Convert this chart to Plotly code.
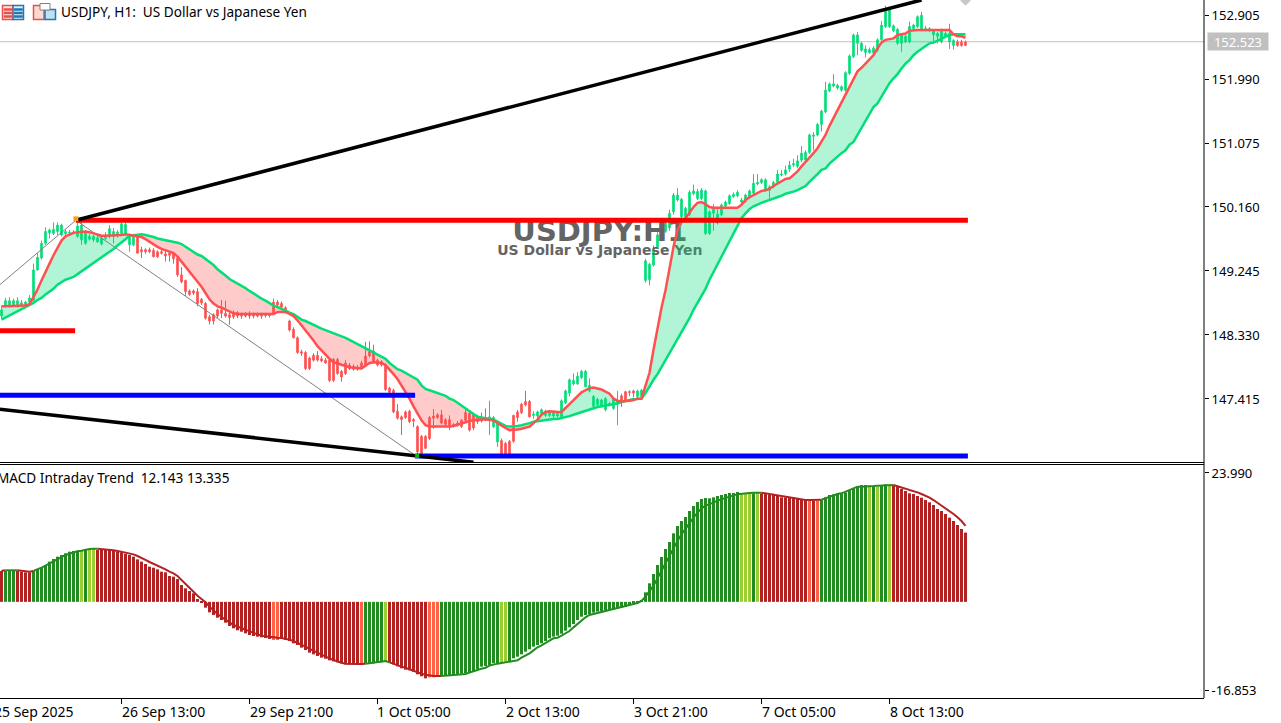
import plotly.graph_objects as go

# USDJPY H1 candles, one value per bar
opens = [148.60,148.74,148.76,148.76,148.76,148.76,148.77,148.80,148.83,149.26,
 149.43,149.64,149.79,149.78,149.81,149.76,149.78,149.79,149.79,149.74,
 149.69,149.64,149.70,149.69,149.66,149.63,149.71,149.74,149.74,149.76,
 149.78,149.78,149.62,149.62,149.74,149.55,149.55,149.55,149.54,149.52,
 149.52,149.49,149.50,149.49,149.43,149.19,149.11,148.96,148.96,148.95,
 148.84,148.78,148.59,148.62,148.69,148.69,148.64,148.62,148.65,148.65,
 148.62,148.63,148.64,148.63,148.62,148.62,148.62,148.62,148.80,148.80,
 148.78,148.72,148.53,148.41,148.29,148.09,148.08,148.00,148.04,148.04,
 147.99,147.97,147.97,147.98,147.98,147.81,147.93,147.90,147.88,147.87,
 147.93,148.03,148.09,148.10,147.97,147.95,147.90,147.57,147.54,147.24,
 147.16,147.23,147.24,147.12,147.02,146.88,146.88,147.15,147.17,147.19,
 147.19,147.12,147.12,147.05,147.07,147.11,147.22,147.21,147.19,147.16,
 147.14,147.15,147.12,147.02,146.80,146.82,146.78,146.81,147.18,147.23,
 147.34,147.38,147.38,147.18,147.17,147.21,147.18,147.18,147.17,147.17,
 147.16,147.36,147.50,147.63,147.63,147.72,147.59,147.53,147.31,147.33,
 147.31,147.26,147.33,147.28,147.35,147.46,147.52,147.52,147.53,147.45,
 147.45,149.11,149.12,149.33,149.59,149.69,149.81,149.86,150.09,150.26,
 150.02,150.02,150.05,150.35,150.28,150.28,149.78,149.78,150.07,149.93,
 150.05,150.17,150.21,150.31,150.32,150.23,150.24,150.30,150.36,150.49,
 150.51,150.40,150.40,150.45,150.51,150.62,150.63,150.70,150.76,150.74,
 150.83,150.83,150.94,151.17,151.19,151.34,151.52,151.82,151.89,151.86,
 151.83,151.83,152.07,152.31,152.50,152.40,152.37,152.37,152.36,152.40,
 152.55,152.74,152.74,152.68,152.50,152.50,152.52,152.52,152.71,152.74,
 152.69,152.69,152.68,152.62,152.60,152.52,152.60,152.52,152.47,152.52,
 152.52,152.52]
highs = [148.74,148.86,148.87,148.85,148.87,148.83,148.82,148.90,149.35,149.50,
 149.68,149.87,149.85,149.94,149.94,149.92,149.84,149.83,149.83,149.97,
 149.95,149.83,149.77,149.76,149.75,149.73,149.80,149.90,149.86,149.83,
 149.93,149.94,149.78,149.76,149.75,149.59,149.57,149.58,149.57,149.54,
 149.55,149.55,149.53,149.52,149.44,149.30,149.12,148.98,148.98,149.00,
 148.86,148.80,148.62,148.64,148.71,148.83,148.82,148.66,148.68,148.67,
 148.65,148.66,148.67,148.65,148.65,148.65,148.65,148.64,148.85,148.83,
 148.81,148.74,148.55,148.44,148.31,148.12,148.10,148.02,148.07,148.10,
 148.03,148.00,148.00,148.00,148.00,147.83,147.97,147.93,147.91,147.90,
 147.96,148.23,148.24,148.19,147.99,147.97,147.92,147.59,147.56,147.34,
 147.18,147.25,147.26,147.14,147.04,146.90,146.90,147.17,147.27,147.21,
 147.26,147.14,147.18,147.07,147.10,147.13,147.30,147.23,147.21,147.19,
 147.22,147.28,147.39,147.17,147.09,146.85,146.80,146.83,147.19,147.26,
 147.36,147.53,147.40,147.24,147.25,147.28,147.26,147.25,147.25,147.23,
 147.41,147.55,147.71,147.78,147.80,147.83,147.83,147.71,147.47,147.43,
 147.42,147.44,147.37,147.44,147.53,147.49,147.53,147.54,147.55,147.55,
 147.56,149.42,149.36,149.61,149.80,149.84,149.96,150.12,150.36,150.43,
 150.29,150.16,150.40,150.48,150.42,150.43,150.41,150.11,150.20,150.14,
 150.21,150.25,150.34,150.37,150.40,150.29,150.35,150.41,150.63,150.63,
 150.57,150.57,150.47,150.53,150.69,150.69,150.75,150.82,150.85,150.90,
 151.03,150.97,151.21,151.23,151.36,151.55,151.95,151.94,152.06,151.92,
 151.90,152.10,152.34,152.64,152.66,152.52,152.47,152.44,152.46,152.57,
 152.82,153.04,153.00,152.77,152.72,152.64,152.62,152.81,152.78,152.90,
 152.95,152.75,152.73,152.70,152.66,152.71,152.67,152.78,152.56,152.55,
 152.55,152.54]
lows = [148.56,148.72,148.72,148.73,148.72,148.74,148.74,148.76,148.81,149.25,
 149.41,149.62,149.71,149.76,149.76,149.74,149.76,149.76,149.77,149.72,
 149.62,149.62,149.68,149.66,149.65,149.61,149.69,149.71,149.64,149.72,
 149.75,149.76,149.52,149.60,149.50,149.43,149.49,149.50,149.44,149.43,
 149.48,149.38,149.38,149.35,149.16,149.07,148.89,148.89,148.90,148.74,
 148.76,148.55,148.48,148.48,148.57,148.57,148.58,148.48,148.56,148.57,
 148.56,148.58,148.56,148.57,148.58,148.56,148.58,148.58,148.62,148.74,
 148.71,148.64,148.38,148.28,148.06,148.03,147.83,147.83,147.95,147.95,
 147.94,147.92,147.66,147.66,147.76,147.66,147.76,147.83,147.82,147.82,
 147.83,147.87,148.01,147.93,147.88,147.88,147.53,147.49,147.21,147.12,
 146.90,147.13,147.07,147.01,146.63,146.62,146.70,146.83,146.99,147.13,
 147.05,147.03,146.97,147.01,147.02,147.00,147.09,146.95,146.97,147.06,
 147.08,147.10,146.90,147.00,146.73,146.62,146.62,146.62,146.79,147.09,
 147.20,147.31,147.15,147.13,147.12,147.19,147.16,147.16,147.14,147.15,
 147.14,147.34,147.45,147.61,147.62,147.70,147.58,147.51,147.28,147.30,
 147.29,147.24,147.31,147.26,147.04,147.30,147.38,147.46,147.44,147.43,
 147.43,149.08,149.04,149.31,149.57,149.67,149.79,149.82,150.05,150.24,
 149.90,150.00,150.03,150.33,150.26,150.26,149.76,149.76,149.82,149.91,
 150.03,150.15,150.19,150.29,150.30,150.21,150.22,150.28,150.34,150.47,
 150.49,150.38,150.26,150.43,150.49,150.60,150.61,150.66,150.73,150.72,
 150.80,150.80,150.92,150.97,151.17,151.24,151.50,151.80,151.87,151.84,
 151.81,151.81,152.05,152.29,152.33,152.38,152.30,152.35,152.34,152.38,
 152.53,152.72,152.72,152.66,152.48,152.38,152.50,152.50,152.69,152.72,
 152.67,152.67,152.66,152.50,152.50,152.50,152.58,152.42,152.41,152.45,
 152.45,152.46]
closes = [148.69,148.82,148.82,148.82,148.82,148.79,148.80,148.86,149.26,149.44,
 149.64,149.81,149.83,149.84,149.90,149.90,149.81,149.80,149.80,149.89,
 149.90,149.81,149.74,149.74,149.72,149.71,149.76,149.85,149.81,149.80,
 149.92,149.91,149.76,149.74,149.50,149.52,149.52,149.52,149.45,149.45,
 149.50,149.46,149.47,149.42,149.19,149.09,148.95,148.91,148.93,148.78,
 148.79,148.57,148.53,148.53,148.60,148.64,148.60,148.58,148.59,148.60,
 148.60,148.60,148.60,148.60,148.60,148.60,148.61,148.61,148.63,148.76,
 148.73,148.66,148.40,148.29,148.08,148.07,147.85,147.85,147.97,147.97,
 147.96,147.93,147.68,147.68,147.78,147.73,147.78,147.85,147.84,147.84,
 147.85,147.89,148.03,147.95,147.90,147.90,147.55,147.51,147.23,147.14,
 147.12,147.15,147.09,147.10,146.66,146.62,146.71,146.85,147.14,147.15,
 147.07,147.05,147.04,147.04,147.04,147.02,147.11,146.97,147.00,147.09,
 147.10,147.12,147.16,147.15,147.07,146.63,146.63,146.63,146.81,147.15,
 147.22,147.33,147.16,147.20,147.23,147.26,147.24,147.23,147.23,147.21,
 147.39,147.53,147.69,147.68,147.74,147.81,147.81,147.61,147.45,147.41,
 147.40,147.42,147.35,147.42,147.40,147.38,147.40,147.51,147.50,147.53,
 147.54,149.39,149.34,149.54,149.76,149.81,149.93,150.07,150.33,150.33,
 150.27,150.14,150.37,150.39,150.38,150.40,150.39,150.09,150.13,150.06,
 150.19,150.23,150.32,150.34,150.37,150.26,150.33,150.39,150.50,150.51,
 150.55,150.55,150.45,150.51,150.63,150.63,150.69,150.76,150.78,150.82,
 150.93,150.94,151.19,151.19,151.34,151.53,151.83,151.92,151.92,151.90,
 151.88,152.08,152.32,152.62,152.62,152.50,152.42,152.41,152.43,152.55,
 152.76,152.98,152.98,152.75,152.70,152.62,152.60,152.74,152.76,152.88,
 152.90,152.71,152.71,152.68,152.64,152.69,152.64,152.64,152.54,152.47,
 152.47,152.47]

# fast and slow moving averages
fast_ma = [148.74,148.74,148.74,148.74,148.74,148.75,148.75,148.77,148.87,148.98,
 149.11,149.24,149.35,149.47,149.58,149.68,149.74,149.77,149.79,149.80,
 149.81,149.81,149.80,149.78,149.76,149.75,149.75,149.75,149.75,149.75,
 149.76,149.77,149.76,149.76,149.75,149.73,149.70,149.66,149.63,149.59,
 149.56,149.54,149.52,149.50,149.45,149.38,149.31,149.24,149.17,149.10,
 149.02,148.93,148.84,148.78,148.74,148.72,148.69,148.66,148.64,148.63,
 148.63,148.62,148.62,148.62,148.62,148.62,148.62,148.62,148.63,148.66,
 148.66,148.66,148.63,148.60,148.54,148.47,148.40,148.33,148.25,148.17,
 148.11,148.04,147.99,147.94,147.92,147.90,147.89,147.87,147.86,147.85,
 147.85,147.89,147.93,147.94,147.94,147.93,147.90,147.84,147.77,147.70,
 147.61,147.51,147.42,147.31,147.21,147.11,147.04,147.02,147.02,147.02,
 147.01,147.01,147.02,147.03,147.05,147.07,147.09,147.10,147.11,147.12,
 147.12,147.12,147.12,147.11,147.07,147.03,147.00,146.97,146.97,146.98,
 146.99,147.00,147.02,147.07,147.12,147.19,147.23,147.24,147.23,147.23,
 147.23,147.28,147.34,147.40,147.46,147.51,147.54,147.57,147.58,147.57,
 147.55,147.52,147.49,147.42,147.39,147.38,147.38,147.39,147.40,147.42,
 147.42,147.61,147.79,148.12,148.43,148.72,148.97,149.29,149.59,149.83,
 149.95,150.00,150.09,150.16,150.22,150.23,150.20,150.16,150.15,150.15,
 150.14,150.14,150.14,150.14,150.15,150.19,150.26,150.30,150.33,150.37,
 150.39,150.40,150.42,150.46,150.49,150.53,150.56,150.57,150.62,150.67,
 150.74,150.80,150.87,150.93,151.00,151.09,151.19,151.32,151.43,151.55,
 151.67,151.76,151.87,152.00,152.10,152.15,152.21,152.27,152.33,152.43,
 152.51,152.55,152.56,152.57,152.62,152.63,152.64,152.68,152.69,152.69,
 152.69,152.69,152.69,152.69,152.69,152.70,152.70,152.69,152.63,152.60,
 152.60,152.58]
slow_ma = [148.55,148.58,148.61,148.64,148.67,148.70,148.73,148.75,148.79,148.83,
 148.86,148.91,148.95,148.99,149.05,149.09,149.12,149.14,149.16,149.20,
 149.24,149.27,149.31,149.35,149.39,149.43,149.47,149.52,149.56,149.61,
 149.65,149.70,149.75,149.76,149.76,149.77,149.76,149.75,149.73,149.71,
 149.70,149.68,149.67,149.66,149.65,149.63,149.59,149.55,149.52,149.48,
 149.46,149.42,149.37,149.33,149.27,149.23,149.18,149.13,149.10,149.07,
 149.03,149.00,148.96,148.92,148.89,148.85,148.82,148.78,148.75,148.73,
 148.71,148.68,148.65,148.63,148.59,148.55,148.53,148.50,148.47,148.45,
 148.42,148.40,148.38,148.35,148.33,148.31,148.29,148.26,148.23,148.21,
 148.18,148.15,148.12,148.09,148.06,148.03,147.99,147.93,147.89,147.84,
 147.82,147.79,147.76,147.72,147.69,147.61,147.56,147.54,147.52,147.51,
 147.49,147.46,147.42,147.40,147.36,147.32,147.27,147.23,147.20,147.16,
 147.15,147.14,147.13,147.12,147.09,147.06,147.03,147.02,147.02,147.03,
 147.04,147.05,147.07,147.09,147.10,147.11,147.12,147.12,147.13,147.13,
 147.14,147.15,147.17,147.19,147.21,147.23,147.25,147.27,147.29,147.30,
 147.31,147.32,147.32,147.33,147.35,147.37,147.39,147.40,147.41,147.42,
 147.42,147.50,147.60,147.69,147.77,147.87,147.97,148.07,148.17,148.26,
 148.36,148.47,148.57,148.69,148.79,148.89,148.99,149.12,149.23,149.35,
 149.45,149.56,149.66,149.77,149.89,150.00,150.07,150.13,150.17,150.20,
 150.22,150.24,150.26,150.27,150.30,150.32,150.35,150.36,150.38,150.40,
 150.43,150.46,150.52,150.57,150.63,150.69,150.71,150.78,150.83,150.89,
 150.93,150.97,151.05,151.09,151.19,151.28,151.38,151.49,151.59,151.64,
 151.74,151.83,151.93,152.00,152.06,152.14,152.21,152.26,152.33,152.38,
 152.42,152.47,152.50,152.51,152.54,152.57,152.60,152.62,152.63,152.63,
 152.63,152.63]

# MACD Intraday Trend pane
macd_hist = [5.41,5.41,5.41,5.41,5.41,5.29,5.18,5.18,5.41,5.70,
 5.99,6.46,7.05,7.51,7.92,8.21,8.51,8.80,8.92,8.97,
 9.09,9.27,9.27,9.27,9.09,9.09,9.09,9.09,8.92,8.80,
 8.68,8.39,8.21,7.92,7.45,7.05,6.64,6.17,5.99,5.70,
 5.29,5.18,4.53,4.42,4.00,2.95,2.37,1.90,1.49,0.50,
 -0.14,-1.02,-1.84,-2.30,-2.77,-3.18,-3.65,-4.23,-4.64,-4.99,
 -5.23,-5.52,-5.81,-5.99,-6.10,-6.22,-6.34,-6.51,-6.69,-6.69,
 -6.51,-6.69,-6.86,-7.27,-7.56,-8.03,-8.44,-8.91,-9.20,-9.49,
 -9.78,-9.96,-10.25,-10.42,-10.60,-10.78,-10.95,-10.95,-10.95,-10.95,
 -10.89,-10.78,-10.78,-10.78,-10.60,-10.60,-10.37,-10.60,-10.95,-11.30,
 -11.65,-11.89,-12.00,-12.24,-12.70,-13.05,-13.41,-13.23,-13.23,-12.94,
 -13.00,-12.94,-12.94,-12.82,-12.70,-12.59,-12.53,-12.35,-12.24,-11.83,
 -11.36,-11.24,-11.07,-10.78,-10.72,-10.60,-10.48,-10.48,-9.90,-9.61,
 -9.20,-8.73,-8.32,-7.85,-7.56,-7.27,-6.86,-6.39,-6.10,-5.93,
 -5.58,-5.05,-4.47,-3.88,-3.18,-2.60,-2.30,-2.13,-1.89,-1.72,
 -1.60,-1.49,-1.37,-1.25,-1.13,-1.02,-0.84,-0.55,-0.32,-0.20,
 0.32,1.67,3.25,4.88,6.46,7.86,9.27,10.49,12.01,13.30,
 14.17,14.88,15.93,16.80,17.50,18.03,18.21,18.15,18.32,18.56,
 18.73,18.91,19.08,19.08,19.26,18.85,18.97,19.02,19.02,19.02,
 19.02,18.91,18.85,18.73,18.56,18.32,18.32,18.26,18.26,18.15,
 17.97,17.85,17.74,17.74,17.74,17.85,18.32,18.73,18.85,19.02,
 19.02,19.20,19.61,19.90,20.25,20.48,20.48,20.37,20.19,20.19,
 20.31,20.60,20.48,20.37,20.19,19.78,19.43,19.02,18.91,18.56,
 18.26,17.85,17.45,16.98,16.28,15.93,15.40,14.76,14.17,13.47,
 12.77,12.143]
macd_line = [5.47,5.53,5.53,5.53,5.53,5.41,5.29,5.29,5.41,5.64,
 5.99,6.34,6.75,7.16,7.51,7.86,8.21,8.45,8.68,8.86,
 8.97,9.15,9.27,9.32,9.32,9.27,9.21,9.15,9.03,8.92,
 8.80,8.68,8.51,8.33,8.04,7.75,7.34,6.99,6.69,6.34,
 5.99,5.70,5.29,5.00,4.53,3.83,3.07,2.37,1.79,1.09,
 0.50,-0.08,-0.84,-1.54,-2.13,-2.65,-3.18,-3.59,-4.06,-4.35,
 -4.64,-4.93,-5.23,-5.46,-5.69,-5.93,-6.04,-6.16,-6.22,-6.28,
 -6.34,-6.45,-6.63,-6.86,-7.15,-7.50,-7.85,-8.26,-8.61,-8.96,
 -9.20,-9.61,-9.90,-10.19,-10.48,-10.66,-10.83,-10.89,-10.89,-10.89,
 -10.89,-10.83,-10.72,-10.72,-10.48,-10.42,-10.37,-10.60,-10.89,-11.13,
 -11.36,-11.54,-11.83,-12.06,-12.30,-12.59,-12.76,-12.94,-13.00,-13.00,
 -13.00,-12.94,-12.88,-12.82,-12.76,-12.70,-12.64,-12.41,-12.24,-11.94,
 -11.71,-11.54,-11.18,-10.95,-10.83,-10.72,-10.60,-10.48,-10.48,-10.25,
 -9.78,-9.43,-9.02,-8.50,-7.97,-7.62,-7.15,-6.80,-6.39,-6.28,
 -5.93,-5.58,-5.11,-4.47,-3.88,-3.30,-2.71,-2.30,-2.13,-1.95,
 -1.84,-1.66,-1.49,-1.31,-1.19,-1.02,-0.78,-0.55,-0.38,-0.20,
 0.15,0.91,1.90,2.84,4.12,5.47,6.75,8.21,9.38,10.67,
 11.84,12.89,13.88,14.76,15.63,16.39,16.86,17.10,17.39,17.74,
 17.97,18.26,18.56,18.67,18.85,18.97,19.02,19.08,19.14,19.14,
 19.14,19.02,18.91,18.79,18.61,18.50,18.44,18.38,18.26,18.09,
 17.97,17.85,17.85,17.85,17.85,17.91,18.15,18.44,18.67,18.91,
 19.02,19.32,19.67,19.96,20.19,20.19,20.19,20.25,20.31,20.37,
 20.43,20.48,20.54,20.48,20.31,20.13,19.84,19.61,19.43,19.20,
 18.91,18.61,18.26,17.85,17.39,16.92,16.39,15.93,15.40,14.82,
 14.17,13.335]
# r firebrick, o tomato, g forestgreen, l yellowgreen
hist_codes = ("r" + "ggg" + "rrrr" + "g" * 12 + "l" + "g" + "ll" + "r" * 44 + "oo" + "r" * 20
              + "o" + "ggggg" + "l" + "r" * 10 + "ooo" + "g" * 15 + "ll" + "g" * 58
              + "lll" + "g" + "l" + "r" * 12 + "o" + "r" + "o" + "g" * 12
              + "l" + "g" + "l" + "gg" + "l" + "r" * 19)
hist_colors = {"r": "#B22222", "o": "#FF6347", "g": "#228B22", "l": "#9ACD32"}

# drawn objects on the price pane
upper_trend_x, upper_trend_y = [18.6, 230], [149.97, 153.12]
lower_trend_x, lower_trend_y = [-0.4, 118], [147.27, 146.51]
zigzag_x, zigzag_y = [-0.4, 18.6, 103.9], [149.05, 149.97, 146.59]
red_levels = [([18.6, 241.6], 149.97), ([-0.4, 18.4], 148.39)]
blue_levels = [([-0.4, 103.4], 147.47), ([103.4, 241.6], 146.60)]
last_price = 152.523

# axes
price_ticks = [152.905, 151.990, 151.075, 150.160, 149.245, 148.330, 147.415]
time_tick_bars = [-2, 30, 62, 94, 126, 158, 190, 222]
time_tick_text = ["25 Sep 2025", "26 Sep 13:00", "29 Sep 21:00", "1 Oct 05:00",
                  "2 Oct 13:00", "3 Oct 21:00", "7 Oct 05:00", "8 Oct 13:00"]
macd_ticks = [22.59, -15.45]
macd_tick_text = ["23.990", "-16.853"]

W, H = 1281, 723
PLOT_W, PLOT_H = 1204, 698
UI_FONT = "Noto Sans"
bars = list(range(len(closes)))
X0 = -0.375
X1 = 300.625


def px_x(v):
    return v / PLOT_W


def px_y(v):
    return (PLOT_H - v) / PLOT_H


def bar_px(i):
    return px_x(1.5 + 4 * i)


fig = go.Figure()

# watermark goes first so everything else sits over it
fig.add_trace(go.Scatter(x=[149.6, 149.6], y=[149.78, 149.53], mode="text", text=["USDJPY:H1", "US Dollar vs Japanese Yen"],
                         textfont=dict(family="DejaVu Sans", size=[29, 14], color="#646464", weight="bold"), cliponaxis=False))

# shaded band between the averages, one piece for each side of a crossing
for start, end, color in [(0, 34, "rgba(0,223,120,0.3)"), (33, 134, "rgba(255,80,80,0.3)"),
                          (133, 238, "rgba(0,223,120,0.3)"), (237, 242, "rgba(255,80,80,0.3)")]:
    fig.add_trace(go.Scatter(x=bars[start:end], y=slow_ma[start:end], mode="lines", line=dict(width=0)))
    fig.add_trace(go.Scatter(x=bars[start:end], y=fast_ma[start:end], mode="lines", line=dict(width=0),
                             fill="tonexty", fillcolor=color))

fig.add_trace(go.Candlestick(x=bars, open=opens, high=highs, low=lows, close=closes, whiskerwidth=0,
                             increasing=dict(line=dict(color="#00DF78", width=1), fillcolor="#00DF78"),
                             decreasing=dict(line=dict(color="#FF5050", width=1), fillcolor="#FF5050")))

fig.add_trace(go.Scatter(x=zigzag_x, y=zigzag_y, mode="lines", line=dict(color="#808080", width=1)))
fig.add_trace(go.Scatter(x=bars, y=slow_ma, mode="lines", line=dict(color="#00DF78", width=2.5)))
fig.add_trace(go.Scatter(x=bars, y=fast_ma, mode="lines", line=dict(color="#FF5050", width=2.5)))

for xs, level in red_levels:
    fig.add_trace(go.Scatter(x=xs, y=[level, level], mode="lines", line=dict(color="#FF0000", width=5)))
for xs, level in blue_levels:
    fig.add_trace(go.Scatter(x=xs, y=[level, level], mode="lines", line=dict(color="#0000FF", width=5)))
fig.add_trace(go.Scatter(x=upper_trend_x, y=upper_trend_y, mode="lines", line=dict(color="black", width=3.5)))
fig.add_trace(go.Scatter(x=lower_trend_x, y=lower_trend_y, mode="lines", line=dict(color="black", width=3.5)))

fig.add_trace(go.Scatter(x=[18.6], y=[149.99], mode="markers", marker=dict(symbol="square", size=5, color="#FF9A1F")))
fig.add_trace(go.Scatter(x=[103.9], y=[146.60], mode="markers", marker=dict(symbol="square", size=4, color="#00C000")))
fig.add_trace(go.Scatter(x=[241], y=[153.11], mode="markers", marker=dict(symbol="diamond", size=8, color="#C8C8C8")))

# MACD pane
fig.add_trace(go.Bar(x=bars, y=macd_hist, width=0.75, marker=dict(color=[hist_colors[c] for c in hist_codes], line_width=0),
                     yaxis="y2"))
# the line takes its colour from the bar under it
run_start = 0
for i in range(1, len(bars) + 1):
    if i == len(bars) or (hist_codes[i] in "gl") != (hist_codes[run_start] in "gl"):
        end = min(i + 1, len(bars))
        color = "#228B22" if hist_codes[run_start] in "gl" else "#B22222"
        fig.add_trace(go.Scatter(x=bars[run_start:end], y=macd_line[run_start:end], mode="lines",
                                 line=dict(color=color, width=2), yaxis="y2"))
        run_start = i

fig.add_hline(y=last_price, line=dict(color="#C0C0C0", width=1), layer="below", yref="y")

# pane separators and the price scale line
for y_px in [462.5, 464.5]:
    fig.add_shape(type="line", xref="paper", yref="paper", x0=0, x1=1, y0=px_y(y_px), y1=px_y(y_px),
                  line=dict(color="black", width=1))
fig.add_shape(type="line", xref="paper", yref="paper", x0=1, x1=1, y0=0, y1=1, line=dict(color="black", width=1))


# toolbar pictograms at the top left
def box(x0, y0, x1, y1, line, fill, width=1.5):
    fig.add_shape(type="rect", xref="paper", yref="paper", x0=px_x(x0), x1=px_x(x1), y0=px_y(y0), y1=px_y(y1),
                  line=dict(color=line, width=width), fillcolor=fill)


box(2.5, 5.5, 13, 19.5, "#E8504A", "#FFE6E2")
box(13, 5.5, 23.5, 19.5, "#2178B4", "#E0F0FA")
for y_px in [9, 12.5, 16]:
    box(4.5, y_px, 12, y_px + 1, "#E8504A", "#E8504A")
    box(14.5, y_px, 22, y_px + 1, "#2178B4", "#2178B4")
box(33.5, 5.5, 44, 19.5, "#E8504A", "#FFD9D2")
box(45, 9.5, 55.5, 19.5, "#2178B4", "#BFE0F5")
box(40, 3.5, 50, 10, "#808080", "#FFFFFF", 1)

annots = [
    dict(text="USDJPY, H1:  US Dollar vs Japanese Yen", x=px_x(59), y=px_y(12), size=13.6),
    dict(text="MACD Intraday Trend  12.143 13.335", x=px_x(-5), y=px_y(477), size=13.6),
]
for tick, label in zip(time_tick_bars, time_tick_text):
    annots.append(dict(text=label, x=bar_px(tick) - px_x(2), y=px_y(711), size=14))
for a in annots:
    fig.add_annotation(text=a["text"], x=a["x"], y=a["y"], xref="paper", yref="paper", xanchor="left", yanchor="middle",
                       showarrow=False, font=dict(family=UI_FONT, size=a["size"], color="black"))
fig.add_annotation(text=f"{last_price:.3f}", x=px_x(1207), y=last_price, xref="paper", yref="y", xanchor="left", yanchor="middle",
                   showarrow=False, font=dict(family=UI_FONT, size=13, color="white"), bgcolor="#C0C0C0",
                   width=60, height=17, borderpad=0)

fig.update_layout(
    width=W, height=H, margin=dict(l=0, r=W - PLOT_W, t=0, b=H - PLOT_H), showlegend=False,
    paper_bgcolor="white", plot_bgcolor="white", hovermode=False, boxgap=0.45, barmode="overlay",
    font=dict(family=UI_FONT, size=13, color="black"),
    xaxis=dict(range=[X0, X1], anchor="y2", showgrid=False, zeroline=False, rangeslider=dict(visible=False),
               tickmode="array", tickvals=time_tick_bars[1:], ticktext=[""] * 7, ticks="outside", ticklen=5, tickcolor="black",
               showline=True, linecolor="black", fixedrange=True),
    yaxis=dict(domain=[(PLOT_H - 462) / PLOT_H, 1], range=[146.514, 153.1195], side="right", showgrid=False, zeroline=False,
               tickmode="array", tickvals=price_ticks, ticktext=[f"{v:.3f}" for v in price_ticks], ticks="outside", ticklen=4,
               tickcolor="black", anchor="x", fixedrange=True),
    yaxis2=dict(domain=[0, 233 / PLOT_H], range=[-16.853, 23.99], side="right", showgrid=False, zeroline=False,
                tickmode="array", tickvals=macd_ticks, ticktext=macd_tick_text, ticks="outside", ticklen=4,
                tickcolor="black", anchor="x", fixedrange=True),
)

fig.write_html("out.html", config={"displayModeBar": False}, post_script="document.body.style.margin='0';")
